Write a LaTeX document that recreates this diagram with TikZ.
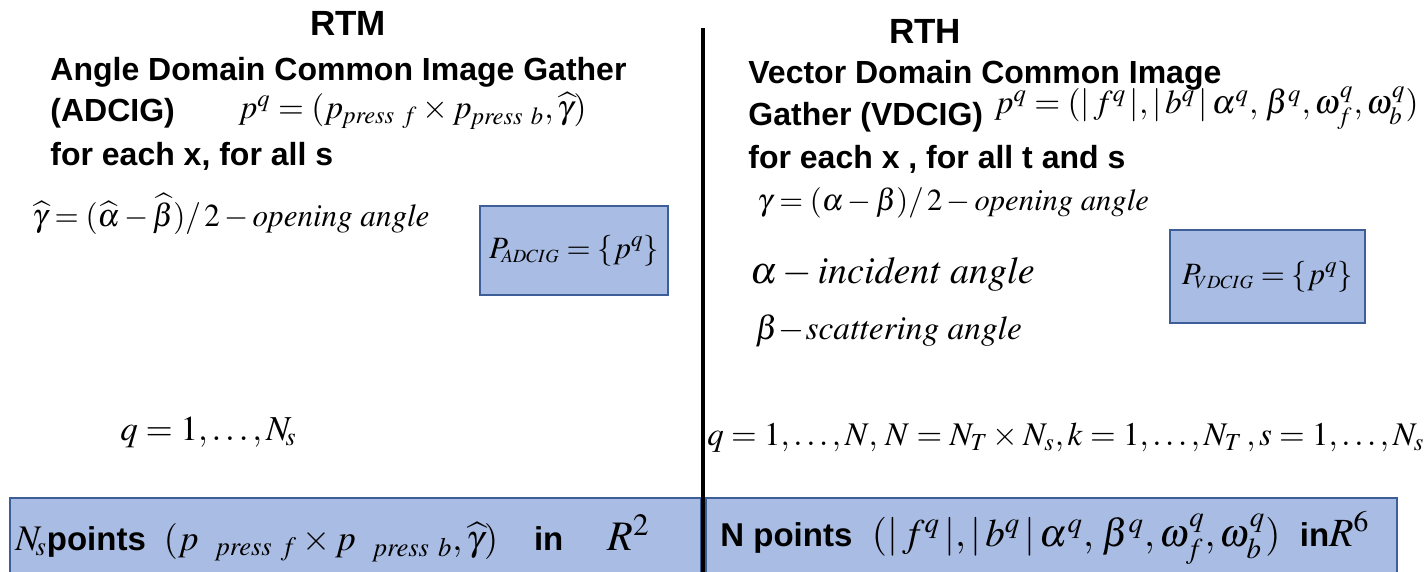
\documentclass[tikz,border=0pt]{standalone}
\usepackage{mathptmx}
\usepackage{fontspec}
\setmainfont{Liberation Serif}
\setsansfont{Liberation Sans}
\definecolor{boxfill}{RGB}{169,188,227}
\definecolor{boxline}{RGB}{62,94,152}
\newcommand\hd[1]{{\sffamily\bfseries #1}}
\newcommand\pf{p_{\mathit{press}\ f}}
\newcommand\pb{p_{\mathit{press}\ b}}
\begin{document}
\begin{tikzpicture}[x=0.5pt,y=-0.5pt,
  txt/.style={inner sep=0pt,anchor=west},
  title/.style={inner sep=0pt,font=\fontsize{17.5}{20}\sffamily\bfseries},
  head/.style={txt,font=\fontsize{16}{19}\sffamily\bfseries},
  bluebox/.style={fill=boxfill,draw=boxline,line width=1.2pt},
  divider/.style={line width=1.6pt,black}]
\useasboundingbox (0,0) rectangle (1428,572);
% bottom boxes (open at the bottom edge)
\fill[boxfill] (10,498) rectangle (701,572);
\draw[boxline,line width=1.2pt] (10,573) -- (10,498) -- (701,498) -- (701,573);
\fill[boxfill] (706,498) rectangle (1397,572);
\draw[boxline,line width=1.2pt] (706,573) -- (706,498) -- (1397,498) -- (1397,573);
% divider
\coordinate (top) at (703,28);
\coordinate (bot) at (703,572);
\draw[divider] (top) -- (bot);
% titles
\node[title] (rtm) at (348,23) {RTM};
\node[title] (rth) at (925,31) {RTH};
% left column
\node[head] (l1) at (50,72) {Angle Domain Common Image Gather};
\node[head] (l2) at (50,113) {(ADCIG)};
\node[txt,font=\fontsize{16.6}{20}\selectfont] (l2m) at (238,111) {$p^q=(\pf\times\pb,\widehat{\gamma})$};
\node[head] (l3) at (50,156) {for each x, for all s};
\node[txt,font=\fontsize{16}{18}\selectfont,xscale=0.97] (lg) at (32,214) {$\widehat{\gamma}=(\widehat{\alpha}-\widehat{\beta})/\,2-\mathit{opening\ angle}$};
\node[bluebox,minimum width=94pt,minimum height=44.5pt,inner sep=0pt,font=\fontsize{15.5}{18}\selectfont] (pad) at (574,250.5) {$P_{\!\scriptscriptstyle ADCIG}=\{p^q\}$};
\node[txt,font=\fontsize{17.5}{20}\selectfont] (lq) at (120,432) {$q=1,\ldots,N_{\!s}$};
% right column
\node[head] (r1) at (748,75) {Vector Domain Common Image};
\node[head] (r2) at (748,117) {Gather (VDCIG)};
\node[txt,font=\fontsize{16.7}{20}\selectfont] (r2m) at (994,108) {$p^q=(|\,f^q\,|,|\,b^q\,|\,\alpha^q,\,\beta^q,\omega^q_f,\omega^q_b)$};
\node[head] (r3) at (748,159) {for each x , for all t and s};
\node[txt,font=\fontsize{15.3}{18}\selectfont] (rg) at (757,203) {$\gamma=(\alpha-\beta)/\,2-\mathit{opening\ angle}$};
\node[txt,font=\fontsize{19}{22}\selectfont] (ra) at (750,274) {$\alpha-\mathit{incident\ angle}$};
\node[txt,font=\fontsize{16.7}{20}\selectfont] (rb) at (755,331) {$\beta\!-\!\mathit{scattering\ angle}$};
\node[bluebox,minimum width=97.5pt,minimum height=46.5pt,inner sep=0pt,font=\fontsize{15.5}{18}\selectfont] (pvd) at (1267.5,276.5) {$P_{\!\scriptscriptstyle VDCIG}=\{p^q\}$};
\node[txt,font=\fontsize{16.5}{19}\selectfont] (rq) at (707,438) {$q=1,\ldots,N,\,N=N_T\times N_s,k=1,\ldots,N_T\,,s=1,\ldots,N_s$};
% bottom texts
\node[txt,font=\fontsize{18}{21}\selectfont] (bl) at (15,538) {$N_{\!s}$\hd{\fontsize{16.5}{19}\selectfont points}\ \ $(p_{\ \ \mathit{press}\ f}\times p_{\ \ \mathit{press}\ b},\widehat{\gamma})$\quad\hd{\fontsize{16.5}{19}\selectfont in}\hspace{22pt}{\fontsize{21}{24}\selectfont$R^2$}};
\node[txt,font=\fontsize{19.5}{23}\selectfont] (br) at (720,538) {\hd{\fontsize{16.5}{19}\selectfont N points}\ \ $(|\,f^q\,|,|\,b^q\,|\,\alpha^q,\,\beta^q,\omega^q_f,\omega^q_b)$\ \ \hd{\fontsize{16.5}{19}\selectfont in}{\fontsize{20}{24}\selectfont$R^6$}};
\end{tikzpicture}
\end{document}
